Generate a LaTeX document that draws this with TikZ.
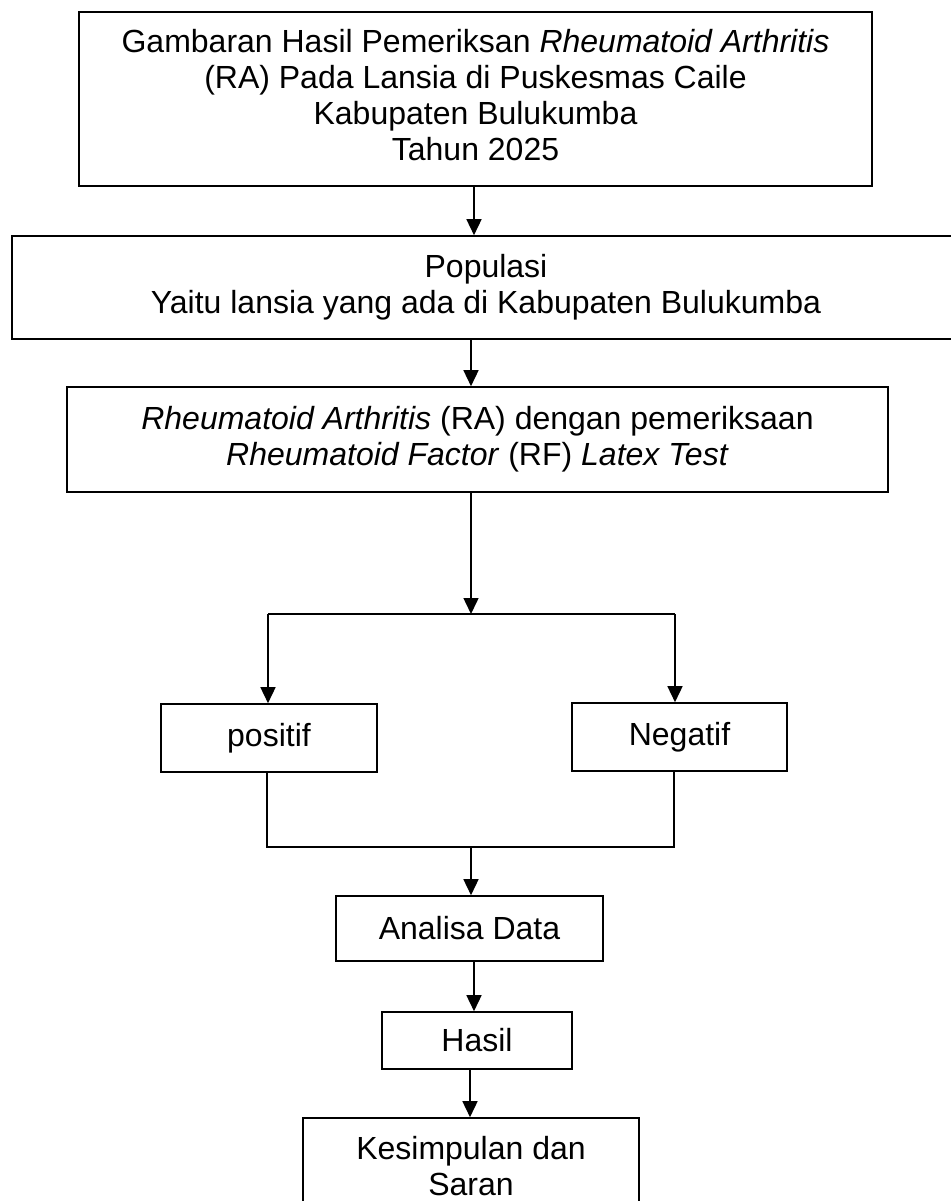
\documentclass[tikz,border=0pt]{standalone}
\usepackage{fontspec}
\setmainfont{Liberation Sans}
\usetikzlibrary{arrows.meta}
\begin{document}
\begin{tikzpicture}[x=1pt,y=-1pt,
  box/.style={draw, line width=1.6pt, align=center, inner sep=0pt, font=\fontsize{32}{36}\selectfont},
  conn/.style={line width=1.5pt},
  arr/.style={conn, -{Triangle[length=16pt,width=15pt]}}]
\useasboundingbox (0,0) rectangle (950,1201);

\node[box, minimum width=793, minimum height=174] (b1) at (475.5,99)
  {Gambaran Hasil Pemeriksan \textit{Rheumatoid Arthritis}\\(RA) Pada Lansia di Puskesmas Caile\\Kabupaten Bulukumba\\Tahun 2025\rule[-8pt]{0pt}{0pt}};
\node[box, minimum width=948, minimum height=103] (b2) at (486,287.5)
  {Populasi\\Yaitu lansia yang ada di Kabupaten Bulukumba};
\node[box, minimum width=821, minimum height=105] (b3) at (477.5,439.5)
  {\textit{Rheumatoid Arthritis} (RA) dengan pemeriksaan\\\textit{Rheumatoid Factor} (RF) \textit{Latex Test}};
\node[box, minimum width=216, minimum height=68] (pos) at (269,738) {positif};
\node[box, minimum width=215, minimum height=68] (neg) at (679.5,737) {Negatif};
\node[box, minimum width=267, minimum height=65] (ana) at (469.5,928.5) {Analisa Data};
\node[box, minimum width=190, minimum height=57] (has) at (477,1040.5) {Hasil};
\node[box, minimum width=336, minimum height=97] (kes) at (471,1166.5) {Kesimpulan dan\\Saran};

\coordinate (split) at (471,614);
\coordinate (busL) at (268,614);
\coordinate (busR) at (675,614);
\coordinate (joinL) at (267,847);
\coordinate (joinR) at (674,847);
\coordinate (join) at (471,847);

\draw[arr] ([xshift=-1.5pt]b1.south) -- ([xshift=-1.5pt]b1.south |- b2.north);
\draw[arr] ([xshift=-6.5pt]b3.north |- b2.south) -- ([xshift=-6.5pt]b3.north);
\draw[arr] (b3.south -| split) -- (split);
\draw[conn] (busL) -- (busR);
\draw[arr] (busL) -- (busL |- pos.north);
\draw[arr] (busR) -- (busR |- neg.north);
\draw[conn] (joinL |- pos.south) -- (joinL) -- (joinR) -- (joinR |- neg.south);
\draw[arr] (join) -- (join |- ana.north);
\draw[arr] ([xshift=4.5pt]ana.south) -- ([xshift=4.5pt]ana.south |- has.north);
\draw[arr] ([xshift=-7pt]has.south) -- ([xshift=-7pt]has.south |- kes.north);
\end{tikzpicture}
\end{document}
